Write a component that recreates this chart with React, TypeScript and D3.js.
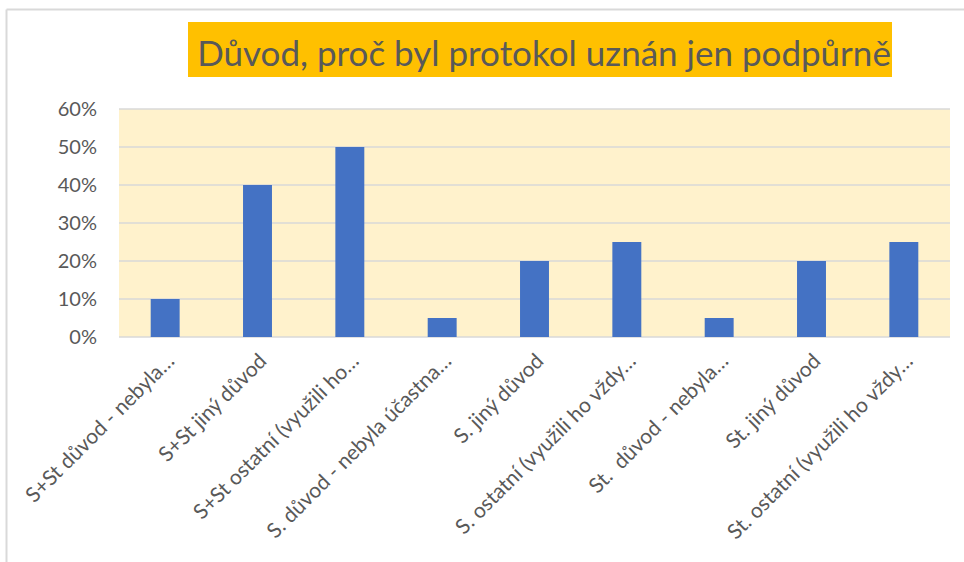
import React, { useEffect, useRef } from 'react';
import * as d3 from 'd3';

const TITLE = 'Důvod, proč byl protokol uznán jen podpůrně';

const categories = [
  'S+St důvod - nebyla…',
  'S+St jiný důvod',
  'S+St ostatní (využili ho…',
  'S. důvod - nebyla účastna…',
  'S. jiný důvod',
  'S. ostatní (využili ho vždy…',
  'St.  důvod - nebyla…',
  'St. jiný důvod',
  'St. ostatní (využili ho vždy…',
];

const values = [0.1, 0.4, 0.5, 0.05, 0.2, 0.25, 0.05, 0.2, 0.25];

const yTicks = [0, 0.1, 0.2, 0.3, 0.4, 0.5, 0.6];

const WIDTH = 964;
const HEIGHT = 562;
const PLOT = { left: 119, right: 950, top: 109, bottom: 337 };
const FONT = 'Lato, "Open Sans", sans-serif';
const TEXT_COLOR = '#595959';

const App: React.FC = () => {
  const svgRef = useRef<SVGSVGElement>(null);

  useEffect(() => {
    if (!svgRef.current) return;
    const svg = d3.select(svgRef.current);
    svg.selectAll('*').remove();

    // outer chart frame (only top and left edges visible)
    svg.append('line')
      .attr('x1', 6.5).attr('x2', WIDTH + 5)
      .attr('y1', 9.5).attr('y2', 9.5)
      .attr('stroke', '#d9d9d9').attr('stroke-width', 2);
    svg.append('line')
      .attr('x1', 6.5).attr('x2', 6.5)
      .attr('y1', 9.5).attr('y2', HEIGHT + 5)
      .attr('stroke', '#d9d9d9').attr('stroke-width', 2);

    // title with orange box
    svg.append('rect')
      .attr('x', 188).attr('y', 22)
      .attr('width', 704).attr('height', 55)
      .attr('fill', '#FFC000');
    svg.append('text')
      .attr('x', 544).attr('y', 66)
      .attr('text-anchor', 'middle')
      .style('font-family', FONT)
      .style('font-size', '35px')
      .attr('fill', TEXT_COLOR)
      .text(TITLE);

    const x = d3.scaleBand<string>()
      .domain(categories)
      .range([PLOT.left, PLOT.right])
      .paddingInner(2.19 / 3.19)
      .paddingOuter(2.19 / 3.19 / 2);

    const y = d3.scaleLinear()
      .domain([0, 0.6])
      .range([PLOT.bottom, PLOT.top]);

    // plot background
    svg.append('rect')
      .attr('x', PLOT.left).attr('y', PLOT.top)
      .attr('width', PLOT.right - PLOT.left)
      .attr('height', PLOT.bottom - PLOT.top)
      .attr('fill', '#FFF2CC');

    // gridlines
    svg.append('g')
      .selectAll('line')
      .data(yTicks)
      .enter()
      .append('line')
      .attr('x1', PLOT.left).attr('x2', PLOT.right)
      .attr('y1', d => y(d)).attr('y2', d => y(d))
      .attr('stroke', '#d9d9d9')
      .attr('stroke-width', 1.5);

    // y labels
    svg.append('g')
      .selectAll('text')
      .data(yTicks)
      .enter()
      .append('text')
      .attr('x', 97)
      .attr('y', d => y(d))
      .attr('dy', '0.36em')
      .attr('text-anchor', 'end')
      .style('font-family', FONT)
      .style('font-size', '20px')
      .attr('fill', TEXT_COLOR)
      .text(d => d3.format('.0%')(d));

    // bars
    svg.append('g')
      .selectAll('rect')
      .data(values)
      .enter()
      .append('rect')
      .attr('x', (d, i) => x(categories[i])!)
      .attr('y', d => y(d))
      .attr('width', x.bandwidth())
      .attr('height', d => y(0) - y(d))
      .attr('fill', '#4472C4');

    // rotated category labels
    svg.append('g')
      .selectAll('text')
      .data(categories)
      .enter()
      .append('text')
      .attr('transform', d => `translate(${x(d)! + x.bandwidth() / 2},${PLOT.bottom + 15}) rotate(-45)`)
      .attr('dy', '0.7em')
      .attr('text-anchor', 'end')
      .style('font-family', FONT)
      .style('font-size', '21px')
      .style('white-space', 'pre')
      .attr('fill', TEXT_COLOR)
      .text(d => d);
  }, []);

  return (
    <svg
      ref={svgRef}
      width={WIDTH}
      height={HEIGHT}
      style={{ position: 'absolute', left: 0, top: 0, background: '#fff' }}
    />
  );
};

export default App;
